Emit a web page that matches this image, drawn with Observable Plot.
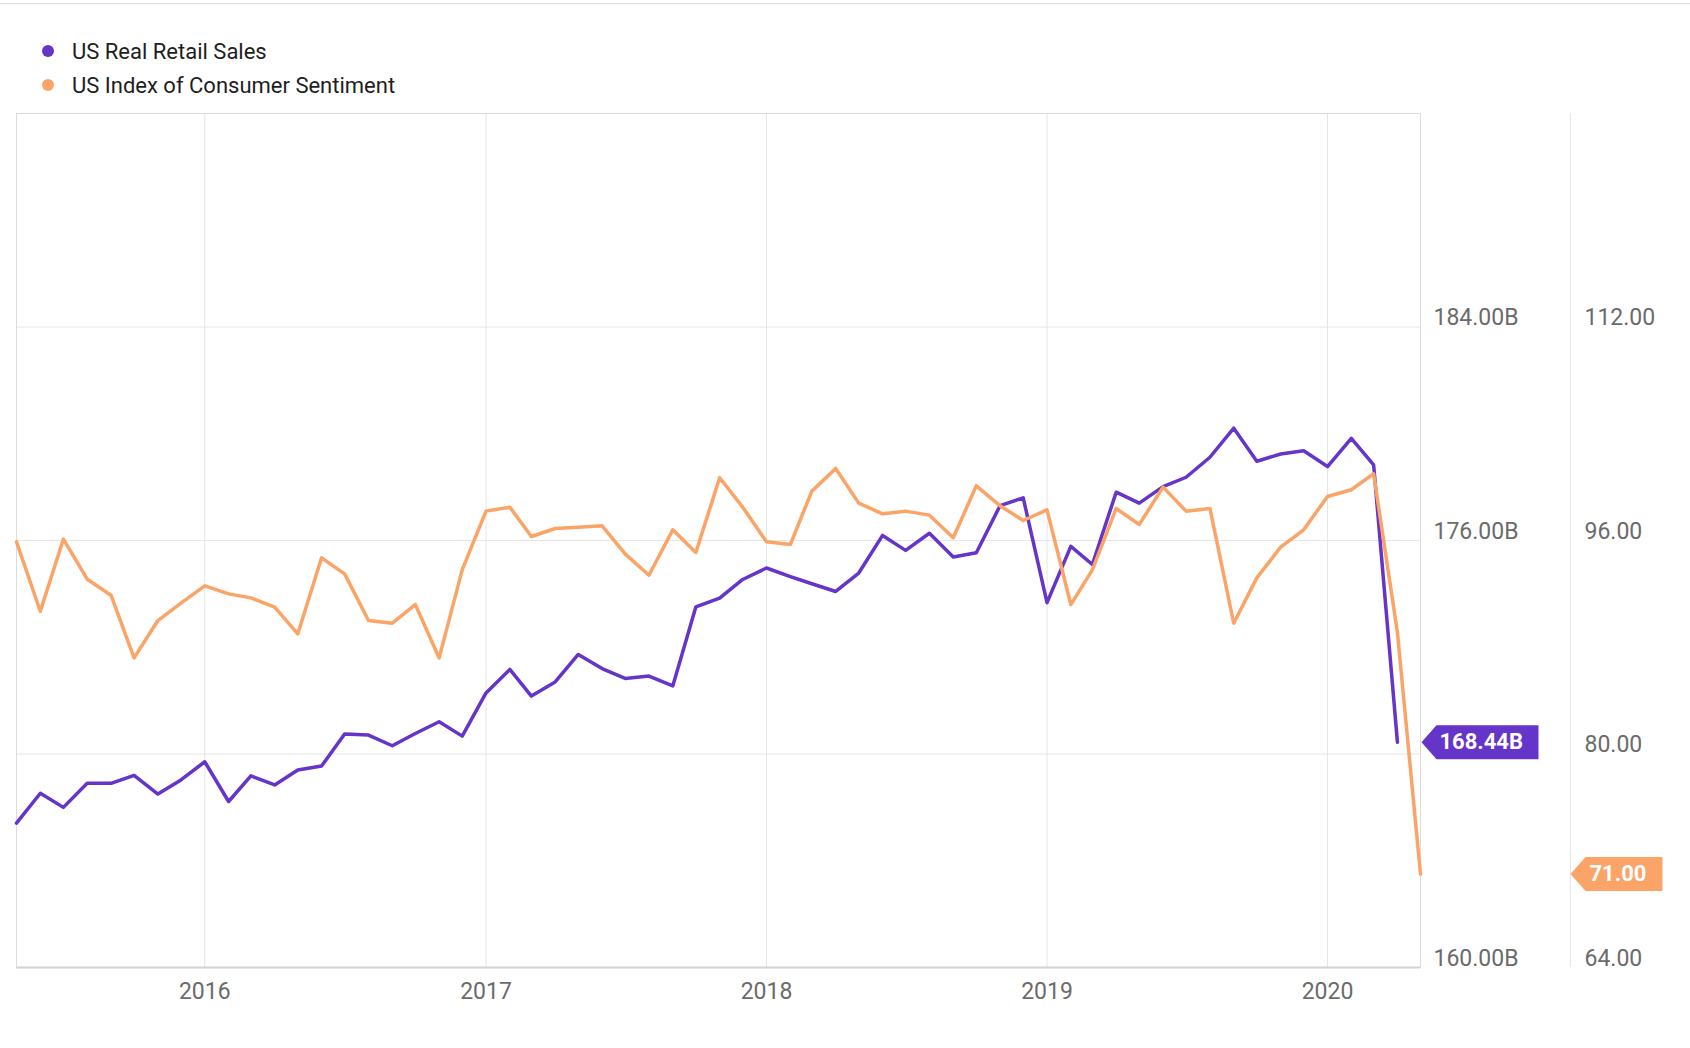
<!DOCTYPE html>
<html>
<head>
<meta charset="utf-8">
<script src="https://cdn.jsdelivr.net/npm/d3@7"></script>
<script src="https://cdn.jsdelivr.net/npm/@observablehq/plot@0.6"></script>
<style>
html, body { margin: 0; padding: 0; background: #fff; font-family: Roboto, "Noto Sans", sans-serif; }
#wrap { position: relative; width: 1690px; height: 1048px; overflow: hidden; }
#topline { position: absolute; left: 0; top: 3px; width: 1690px; height: 1px; background: #dcdcdc; }
#legend { position: relative; height: 100px; }
.item { position: absolute; left: 42px; height: 26px; display: flex; align-items: center; font-size: 22px; color: #1e1e1e; white-space: nowrap; }
.item .dot { width: 12px; height: 12px; border-radius: 50%; margin-right: 18px; flex: none; }
#chart svg { display: block; }
</style>
</head>
<body>
<div id="wrap">
  <div id="topline"></div>
  <div id="legend"></div>
  <div id="chart"></div>
</div>
<script>
// ---- Data ----
const seriesNames = ["US Real Retail Sales", "US Index of Consumer Sentiment"];
const seriesColors = ["#6534c8", "#fba468"];

// Monthly points, first month May 2015
const retailSales = [
  165.41, 166.53, 166.00, 166.90, 166.90, 167.20, 166.50, 167.03, 167.71, 166.22,
  167.18, 166.84, 167.40, 167.55, 168.75, 168.71, 168.31, 168.77, 169.21, 168.67,
  170.29, 171.17, 170.17, 170.70, 171.73, 171.20, 170.83, 170.92, 170.55, 173.51,
  173.84, 174.54, 174.97, 174.65, 174.38, 174.09, 174.78, 176.19, 175.63, 176.27,
  175.38, 175.54, 177.31, 177.60, 173.67, 175.78, 175.10, 177.81, 177.40, 178.02,
  178.37, 179.12, 180.21, 178.97, 179.24, 179.36, 178.77, 179.83, 178.83, 168.44
];
const consumerSentiment = [
  95.9, 90.7, 96.1, 93.1, 91.9, 87.2, 90.0, 91.3, 92.6, 92.0,
  91.7, 91.0, 89.0, 94.7, 93.5, 90.0, 89.8, 91.2, 87.2, 93.8,
  98.2, 98.5, 96.3, 96.9, 97.0, 97.1, 95.0, 93.4, 96.8, 95.1,
  100.7, 98.5, 95.9, 95.7, 99.7, 101.4, 98.8, 98.0, 98.2, 97.9,
  96.2, 100.1, 98.6, 97.5, 98.3, 91.2, 93.8, 98.4, 97.2, 100.0,
  98.2, 98.4, 89.8, 93.2, 95.5, 96.8, 99.3, 99.8, 101.0, 89.1, 71.0
];

const retailGridTicks = [168, 176, 184];
const retailLabelTicks = [160, 176, 184];   // 168.00B is hidden under the value tag in the reference
const sentimentTicks = [64, 80, 96, 112];
const yearTicks = ["2016-01-01", "2017-01-01", "2018-01-01", "2019-01-01", "2020-01-01"].map(d => new Date(d + "T00:00:00Z"));
const retailDomain = [160, 192];
const sentimentDomain = [64, 128];
const startMonth = new Date(Date.UTC(2015, 4, 1));
const xDomain = [startMonth, new Date(Date.UTC(2020, 4, 1))];

// ---- Build tables ----
const months = d3.utcMonth.range(startMonth, d3.utcMonth.offset(startMonth, consumerSentiment.length));
const toLeft = s => retailDomain[0] + (s - sentimentDomain[0]) * (retailDomain[1] - retailDomain[0]) / (sentimentDomain[1] - sentimentDomain[0]);
const retailRows = retailSales.map((v, i) => ({date: months[i], value: v}));
const sentimentRows = consumerSentiment.map((v, i) => ({date: months[i], value: v, y: toLeft(v)}));
const retailLast = retailRows[retailRows.length - 1];
const sentimentLast = sentimentRows[sentimentRows.length - 1];

// ---- Legend ----
const legend = document.getElementById("legend");
const legendTops = [38, 72];
seriesNames.forEach((name, i) => {
  const item = document.createElement("div");
  item.className = "item";
  item.style.top = legendTops[i] + "px";
  const dot = document.createElement("span");
  dot.className = "dot";
  dot.style.background = seriesColors[i];
  const label = document.createElement("span");
  label.textContent = name;
  item.appendChild(dot);
  item.appendChild(label);
  legend.appendChild(item);
});

// Arrow-shaped value tag symbol (tip at the anchor point)
const tag = (w) => ({
  draw(ctx) {
    ctx.moveTo(0, 0);
    ctx.lineTo(15, -17);
    ctx.lineTo(w, -17);
    ctx.lineTo(w, 17);
    ctx.lineTo(15, 17);
    ctx.closePath();
  }
});

const gridColor = "#e6e6e6";

const chart = Plot.plot({
  width: 1690,
  height: 948,
  marginTop: 13,
  marginBottom: 81,
  marginLeft: 16,
  marginRight: 270,
  style: {fontFamily: "Roboto, 'Noto Sans', sans-serif", fontSize: "23px", color: "#6b6b6b", background: "white", overflow: "visible"},
  x: {type: "utc", domain: xDomain},
  y: {domain: retailDomain, axis: null},
  marks: [
    Plot.gridX(yearTicks, {stroke: gridColor, strokeOpacity: 1}),
    Plot.gridY(retailGridTicks, {stroke: gridColor, strokeOpacity: 1}),
    Plot.frame({stroke: "#dcdcdc"}),
    Plot.ruleX([xDomain[1]], {dx: 150, stroke: gridColor}),
    Plot.ruleY([retailDomain[0]], {stroke: "#d2d2d2", strokeWidth: 2}),
    Plot.axisX(yearTicks, {tickFormat: d3.utcFormat("%Y"), tickSize: 0, tickPadding: 15, fontSize: 23}),
    Plot.text(retailLabelTicks, {y: d => d, text: d => d.toFixed(2) + "B", frameAnchor: "right", dx: 13, dy: -2, textAnchor: "start", lineAnchor: "bottom", fontSize: 23}),
    Plot.text(sentimentTicks, {y: d => toLeft(d), text: d => d.toFixed(2), frameAnchor: "right", dx: 164, dy: -2, textAnchor: "start", lineAnchor: "bottom", fontSize: 23}),
    Plot.line(retailRows, {x: "date", y: "value", stroke: seriesColors[0], strokeWidth: 3.5}),
    Plot.line(sentimentRows, {x: "date", y: "y", stroke: seriesColors[1], strokeWidth: 3.5}),
    Plot.dot([retailLast], {y: "value", frameAnchor: "right", dx: 1, symbol: tag(117), fill: seriesColors[0]}),
    Plot.text([retailLast], {y: "value", text: d => d.value.toFixed(2) + "B", frameAnchor: "right", dx: 19, textAnchor: "start", fill: "white", fontWeight: "bold", fontSize: 22}),
    Plot.dot([sentimentLast], {y: "y", frameAnchor: "right", dx: 150, symbol: tag(92), fill: seriesColors[1]}),
    Plot.text([sentimentLast], {y: "y", text: d => d.value.toFixed(2), frameAnchor: "right", dx: 169, textAnchor: "start", fill: "white", fontWeight: "bold", fontSize: 22})
  ]
});
document.getElementById("chart").appendChild(chart);
</script>
</body>
</html>
